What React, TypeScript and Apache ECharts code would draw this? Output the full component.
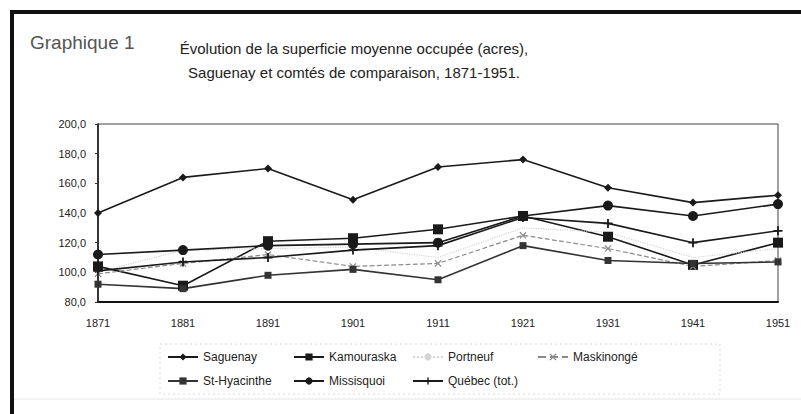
import React, { useEffect, useRef } from "react";
import * as echarts from "echarts";

const years = ["1871", "1881", "1891", "1901", "1911", "1921", "1931", "1941", "1951"];
const yTicks = [80, 100, 120, 140, 160, 180, 200];

const saguenay = [140, 164, 170, 149, 171, 176, 157, 147, 152];
const kamouraska = [104, 91, 121, 123, 129, 138, 124, 105, 120];
const portneuf = [100, 115, 116, 117, 110, 130, 127, 110, 116];
const maskinonge = [99, 106, 112, 104, 106, 125, 116, 104, 108];
const stHyacinthe = [92, 89, 98, 102, 95, 118, 108, 106, 107];
const missisquoi = [112, 115, 118, 119, 120, 138, 145, 138, 146];
const quebec = [101, 107, 110, 115, 118, 137, 133, 120, 128];

const titleLeft = "Graphique 1";
const titleLine1 = "Évolution de la superficie moyenne occupée (acres),";
const titleLine2 = "Saguenay et comtés de comparaison, 1871-1951.";

const PLUS = "path://M3.2,0H4.8V3.2H8V4.8H4.8V8H3.2V4.8H0V3.2H3.2Z";
const CROSS = "path://M1,0L4,3L7,0L8,1L5,4L8,7L7,8L4,5L1,8L0,7L3,4L0,1Z";

export default function App() {
  const ref = useRef<HTMLDivElement>(null);
  useEffect(() => {
    if (!ref.current) return;
    const chart = echarts.init(ref.current, null, { renderer: "svg" });
    const font = "Liberation Sans, Arial, sans-serif";
    const mk = (
      name: string,
      data: number[],
      color: string,
      symbol: string,
      size: number,
      lineType: any = "solid",
      width = 1.6
    ) => ({
      name,
      type: "line",
      data,
      symbol,
      symbolSize: size,
      showSymbol: symbol !== "none",
      lineStyle: { color, width, type: lineType },
      itemStyle: { color, borderWidth: 0 },
      z: 3,
    });
    const legendAt = (name: string, left: number, top: number) => ({
      data: [name],
      left,
      top,
      padding: 0,
      itemWidth: 30,
      itemHeight: 9,
      itemGap: 0,
      textStyle: { fontFamily: font, fontSize: 12, color: "#222", padding: [0, 0, 0, 0] },
    });
    chart.setOption({
      animation: false,
      backgroundColor: "#fff",
      grid: { left: 98, right: 23, top: 124, bottom: 112, show: true, borderColor: "#444", borderWidth: 1 },
      xAxis: {
        type: "category",
        data: years,
        boundaryGap: false,
        axisLine: { lineStyle: { color: "#111", width: 2 } },
        axisTick: { show: false },
        axisLabel: { fontFamily: font, fontSize: 11, color: "#222", margin: 15 },
        splitLine: { show: false },
      },
      yAxis: {
        type: "value",
        min: yTicks[0],
        max: yTicks[yTicks.length - 1],
        interval: 20,
        axisLine: { show: true, lineStyle: { color: "#111", width: 1.5 } },
        axisTick: { show: true, length: 3, lineStyle: { color: "#333" } },
        axisLabel: {
          fontFamily: font,
          fontSize: 11,
          color: "#222",
          margin: 12,
          formatter: (v: number) => v.toFixed(1).replace(".", ","),
        },
        splitLine: { show: false },
      },
      legend: [
        legendAt("Saguenay", 167, 351),
        legendAt("Kamouraska", 293, 351),
        legendAt("Portneuf", 412, 351),
        legendAt("Maskinongé", 537, 351),
        legendAt("St-Hyacinthe", 167, 375),
        legendAt("Missisquoi", 293, 375),
        legendAt("Québec (tot.)", 412, 375),
      ],
      series: [
        mk("Saguenay", saguenay, "#1a1a1a", "diamond", 8),
        mk("Kamouraska", kamouraska, "#1a1a1a", "rect", 10),
        mk("Portneuf", portneuf, "#d4d4d4", "none", 0, "dotted", 1.2),
        mk("Maskinongé", maskinonge, "#8a8a8a", CROSS, 7, "dashed", 1.2),
        mk("St-Hyacinthe", stHyacinthe, "#333", "rect", 7),
        mk("Missisquoi", missisquoi, "#1a1a1a", "circle", 10),
        mk("Québec (tot.)", quebec, "#1a1a1a", PLUS, 9),
      ],
      graphic: [
        { type: "line", shape: { x1: 10, y1: 12, x2: 801, y2: 12 }, style: { stroke: "#111", lineWidth: 4 } },
        { type: "line", shape: { x1: 12, y1: 10, x2: 12, y2: 414 }, style: { stroke: "#111", lineWidth: 4 } },
        { type: "line", shape: { x1: 14, y1: 399, x2: 801, y2: 399 }, style: { stroke: "#e6e6e6", lineWidth: 1 } },
        { type: "rect", shape: { x: 160, y: 344, width: 560, height: 50 }, style: { fill: "none", stroke: "#dcdcdc", lineWidth: 1, lineDash: [2, 3] } },
        {
          type: "text",
          x: 30,
          y: 42,
          style: { text: titleLeft, font: "19px Liberation Sans, Arial, sans-serif", fill: "#555", textVerticalAlign: "middle" },
        },
        {
          type: "text",
          x: 354,
          y: 48,
          style: { text: titleLine1, font: "15px Liberation Sans, Arial, sans-serif", fill: "#222", textAlign: "center", textVerticalAlign: "middle" },
        },
        {
          type: "text",
          x: 354,
          y: 72,
          style: { text: titleLine2, font: "15px Liberation Sans, Arial, sans-serif", fill: "#222", textAlign: "center", textVerticalAlign: "middle" },
        },
      ],
    });
    return () => chart.dispose();
  }, []);
  return <div ref={ref} style={{ width: 801, height: 414, position: "absolute", left: 0, top: 0 }} />;
}
